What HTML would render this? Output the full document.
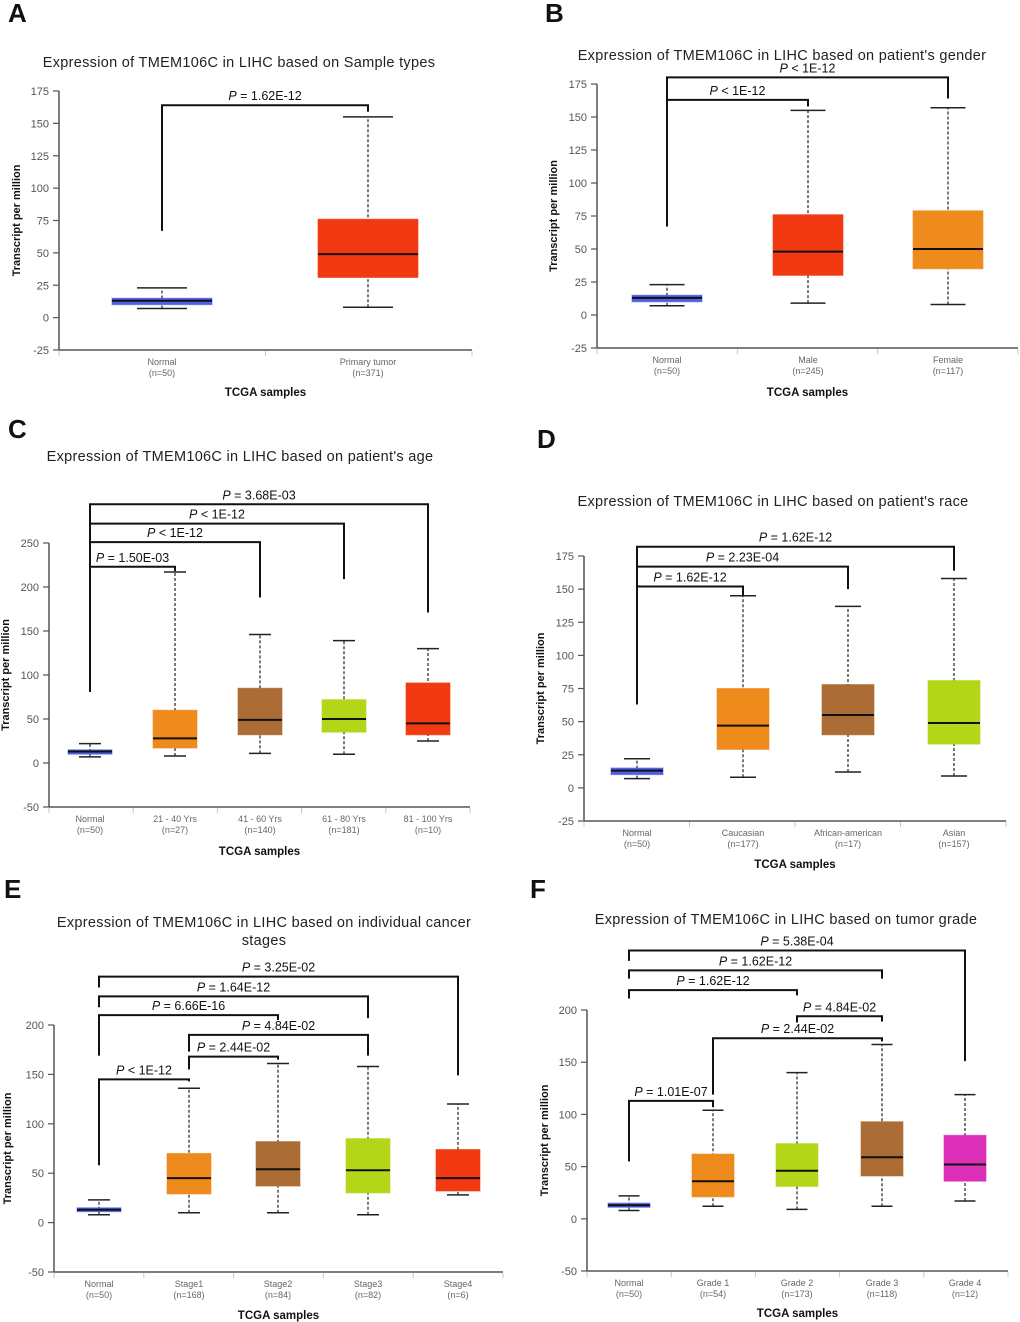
<!DOCTYPE html>
<html><head><meta charset="utf-8"><style>
html,body{margin:0;padding:0;background:#fff;}
svg{display:block;font-family:"Liberation Sans",sans-serif;}
</style></head><body>
<svg id="fig" width="1020" height="1322" viewBox="0 0 1020 1322"></svg>
<script>
// ---- data ----
const catsA=["Normal","Primary tumor"]; const nA=["(n=50)","(n=371)"];
const boxA=[[7,10,13,15,23],[8,31,49,76,155]];
const brA=[[0,1,164,67,159,"P = 1.62E-12"]];
const ticksA=[-25,0,25,50,75,100,125,150,175];

const catsB=["Normal","Male","Female"]; const nB=["(n=50)","(n=245)","(n=117)"];
const boxB=[[7,10,13,15,23],[9,30,48,76,155],[8,35,50,79,157]];
const brB=[[0,1,163,67,158,"P < 1E-12"],[0,2,180,67,164,"P < 1E-12"]];
const ticksB=[-25,0,25,50,75,100,125,150,175];

const catsC=["Normal","21 - 40 Yrs","41 - 60 Yrs","61 - 80 Yrs","81 - 100 Yrs"]; const nC=["(n=50)","(n=27)","(n=140)","(n=181)","(n=10)"];
const boxC=[[7,10,13,15,22],[8,17,28,60,217],[11,32,49,85,146],[10,35,50,72,139],[25,32,45,91,130]];
const brC=[[0,1,223,81,218,"P = 1.50E-03"],[0,2,251,81,188,"P < 1E-12"],[0,3,272,81,209,"P < 1E-12"],[0,4,294,81,171,"P = 3.68E-03"]];
const ticksC=[-50,0,50,100,150,200,250];

const catsD=["Normal","Caucasian","African-american","Asian"]; const nD=["(n=50)","(n=177)","(n=17)","(n=157)"];
const boxD=[[7,10,13,15,22],[8,29,47,75,145],[12,40,55,78,137],[9,33,49,81,158]];
const brD=[[0,1,152,63,145,"P = 1.62E-12"],[0,2,167,63,150,"P = 2.23E-04"],[0,3,182,63,164,"P = 1.62E-12"]];
const ticksD=[-25,0,25,50,75,100,125,150,175];

const catsE=["Normal","Stage1","Stage2","Stage3","Stage4"]; const nE=["(n=50)","(n=168)","(n=84)","(n=82)","(n=6)"];
const boxE=[[8,11,13,15,23],[10,29,45,70,136],[10,37,54,82,161],[8,30,53,85,158],[28,32,45,74,120]];
const brE=[[0,1,145,58,143,"P < 1E-12"],[1,2,168,155,165,"P = 2.44E-02"],[1,3,190,173,169,"P = 4.84E-02"],[0,2,210,169,205,"P = 6.66E-16"],[0,3,229,218,207,"P = 1.64E-12"],[0,4,249,238,149,"P = 3.25E-02"]];
const ticksE=[-50,0,50,100,150,200];

const catsF=["Normal","Grade 1","Grade 2","Grade 3","Grade 4"]; const nF=["(n=50)","(n=54)","(n=173)","(n=118)","(n=12)"];
const boxF=[[8,11,13,15,22],[12,21,36,62,104],[9,31,46,72,140],[12,41,59,93,167],[17,36,52,80,119]];
const brF=[[0,1,113,55,107,"P = 1.01E-07"],[1,3,173,119,170,"P = 2.44E-02"],[2,3,194,188,189,"P = 4.84E-02"],[0,2,219,211,214,"P = 1.62E-12"],[0,3,238,230,230,"P = 1.62E-12"],[0,4,257,247,151,"P = 5.38E-04"]];
const ticksF=[-50,0,50,100,150,200];

// ---- layout ----
const C={blue:"#4f5fe6",red:"#f23a12",orange:"#ef8a1d",brown:"#ab6c35",green:"#b3d619",mag:"#dc2fb8"};
const panels=[
 {id:"a",letter:"A",lx:8,ly:22,title:["Expression of TMEM106C in LIHC based on Sample types"],tx:239,ty:67,
  cats:catsA,ns:nA,box:boxA,br:brA,ticks:ticksA,vmin:-25,vmax:175,x0:59,x1:472,yTop:91,yBot:350,
  cx:[162,368],bw:100,cols:[C.blue,C.red],ylx:20,xly:396},
 {id:"b",letter:"B",lx:545,ly:22,title:["Expression of TMEM106C in LIHC based on patient's gender"],tx:782,ty:60,
  cats:catsB,ns:nB,box:boxB,br:brB,ticks:ticksB,vmin:-25,vmax:175,x0:597,x1:1018,yTop:84,yBot:348,
  cx:[667,808,948],bw:70,cols:[C.blue,C.red,C.orange],ylx:557,xly:396},
 {id:"c",letter:"C",lx:8,ly:438,title:["Expression of TMEM106C in LIHC based on patient's age"],tx:240,ty:461,
  cats:catsC,ns:nC,box:boxC,br:brC,ticks:ticksC,vmin:-50,vmax:250,x0:49,x1:470,yTop:543,yBot:807,
  cx:[90,175,260,344,428],bw:44,cols:[C.blue,C.orange,C.brown,C.green,C.red],ylx:9,xly:855},
 {id:"d",letter:"D",lx:537,ly:448,title:["Expression of TMEM106C in LIHC based on patient's race"],tx:773,ty:506,
  cats:catsD,ns:nD,box:boxD,br:brD,ticks:ticksD,vmin:-25,vmax:175,x0:584,x1:1006,yTop:556,yBot:821,
  cx:[637,743,848,954],bw:52,cols:[C.blue,C.orange,C.brown,C.green],ylx:544,xly:868},
 {id:"e",letter:"E",lx:4,ly:898,title:["Expression of TMEM106C in LIHC based on individual cancer","stages"],tx:264,ty:927,
  cats:catsE,ns:nE,box:boxE,br:brE,ticks:ticksE,vmin:-50,vmax:200,x0:54,x1:503,yTop:1025,yBot:1272,
  cx:[99,189,278,368,458],bw:44,cols:[C.blue,C.orange,C.brown,C.green,C.red],ylx:11,xly:1319},
 {id:"f",letter:"F",lx:530,ly:898,title:["Expression of TMEM106C in LIHC based on tumor grade"],tx:786,ty:924,
  cats:catsF,ns:nF,box:boxF,br:brF,ticks:ticksF,vmin:-50,vmax:200,x0:587,x1:1008,yTop:1010,yBot:1271,
  cx:[629,713,797,882,965],bw:42,cols:[C.blue,C.orange,C.green,C.brown,C.mag],ylx:548,xly:1317}
];
const NS="http://www.w3.org/2000/svg";
const svg=document.getElementById("fig");
function mk(tag,attrs,parent,text){const e=document.createElementNS(NS,tag);for(const k in attrs)e.setAttribute(k,attrs[k]);if(text!==undefined)e.textContent=text;parent.appendChild(e);return e;}

panels.forEach(p=>{
  const g=mk("g",{},svg);
  
  
  const y=v=>p.yBot-(v-p.vmin)*(p.yBot-p.yTop)/(p.vmax-p.vmin);
  const lt=mk("text",{x:p.lx,y:p.ly,"font-size":26,"font-weight":"bold",fill:"#111"},g,p.letter);
  
  
  p.title.forEach((t,i)=>{
    const tt=mk("text",{x:p.tx,y:p.ty+i*18,"font-size":14.5,"text-anchor":"middle",fill:"#222","letter-spacing":"0.3"},g,t);
    
    
  });
  const ax=mk("line",{x1:p.x0,y1:p.yTop,x2:p.x0,y2:p.yBot,stroke:"#555","stroke-width":1.5},g);
  
  
  const xa=mk("line",{x1:p.x0,y1:p.yBot,x2:p.x1,y2:p.yBot,stroke:"#555","stroke-width":1.5},g);
  
  
  p.ticks.forEach(t=>{
    mk("line",{x1:p.x0-6,y1:y(t),x2:p.x0,y2:y(t),stroke:"#555","stroke-width":1.2},g);
    const tl=mk("text",{x:p.x0-10,y:y(t)+4,"font-size":11,"text-anchor":"end",fill:"#555"},g,String(t));
    
    
  });
  const n=p.cats.length, step=(p.x1-p.x0)/n;
  for(let i=0;i<=n;i++){mk("line",{x1:p.x0+i*step,y1:p.yBot+1,x2:p.x0+i*step,y2:p.yBot+6,stroke:"#b8c8e0","stroke-width":1},g);}
  const yl=mk("text",{x:0,y:0,"font-size":11,"font-weight":"bold","text-anchor":"middle",fill:"#111",transform:`translate(${p.ylx},${(p.yTop+p.yBot)/2}) rotate(-90)`},g,"Transcript per million");
  
  
  const xl=mk("text",{x:(p.x0+p.x1)/2,y:p.xly,"font-size":11.5,"font-weight":"bold","text-anchor":"middle",fill:"#111"},g,"TCGA samples");
  
  
  p.box.forEach((b,i)=>{
    const cx=p.cx[i], w=p.bw, cap=w*0.5;
    const bg=mk("g",{},g);
    
    
    mk("line",{x1:cx,y1:y(b[0]),x2:cx,y2:y(b[4]),stroke:"#222","stroke-width":1.2,"stroke-dasharray":"3,2"},bg);
    mk("line",{x1:cx-cap/2,y1:y(b[0]),x2:cx+cap/2,y2:y(b[0]),stroke:"#222","stroke-width":1.5},bg);
    mk("line",{x1:cx-cap/2,y1:y(b[4]),x2:cx+cap/2,y2:y(b[4]),stroke:"#222","stroke-width":1.5},bg);
    mk("rect",{x:cx-w/2,y:y(b[3]),width:w,height:Math.max(2,y(b[1])-y(b[3])),fill:p.cols[i],stroke:p.cols[i],"stroke-opacity":0.6},bg);
    mk("line",{x1:cx-w/2,y1:y(b[2]),x2:cx+w/2,y2:y(b[2]),stroke:"#111","stroke-width":2},bg);
    const cl=mk("text",{x:cx,y:p.yBot+15,"font-size":9,"text-anchor":"middle",fill:"#666"},g,p.cats[i]);
    
    
    mk("text",{x:cx,y:p.yBot+26,"font-size":9,"text-anchor":"middle",fill:"#666"},g,p.ns[i]);
  });
  p.br.forEach(r=>{
    const xa=p.cx[r[0]], xb=p.cx[r[1]], top=y(r[2]);
    const bg=mk("g",{},g);
    
    
    mk("polyline",{points:`${xa},${y(r[3])} ${xa},${top} ${xb},${top} ${xb},${y(r[4])}`,fill:"none",stroke:"#111","stroke-width":2},bg);
    const txt=r[5].replace(/^P/,"");
    const t=mk("text",{x:(xa+xb)/2,y:top-5,"font-size":12.5,"text-anchor":"middle",fill:"#111"},bg);
    mk("tspan",{"font-style":"italic"},t,"P");
    mk("tspan",{},t,txt);
  });
});
</script>
</body></html>
